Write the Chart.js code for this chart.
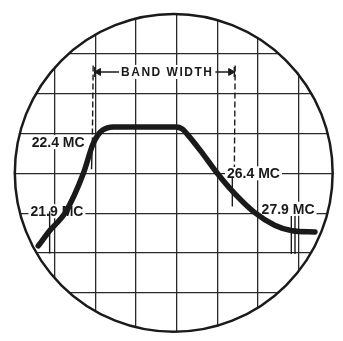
<!DOCTYPE html>
<html>
<head>
<meta charset="utf-8">
<script src="https://cdn.jsdelivr.net/npm/chart.js@4/dist/chart.umd.min.js"></script>
<style>
  html, body { margin: 0; padding: 0; background: #fff; }
  #wrap { width: 343px; height: 341px; position: relative; }
</style>
</head>
<body>
<div id="wrap"><canvas id="scope"></canvas></div>
<script>
(() => {
  "use strict";

  // units are graticule divisions (0..6 both ways)
  const GRID_X = [0, 1, 2, 3, 4, 5, 6];
  const GRID_Y = [0, 1, 2, 3, 4, 5, 6];

  // response curve
  const CURVE_X = [-0.40, -0.12, 0.28, 0.71, 0.94, 1.06, 1.18, 1.30, 1.45, 2.99, 3.14, 3.27, 3.60, 4.00, 4.40, 4.89, 5.41, 5.84, 6.40];
  const CURVE_Y = [1.18, 1.56, 2.04, 3.00, 3.72, 3.95, 4.08, 4.14, 4.16, 4.16, 4.11, 3.97, 3.55, 3.00, 2.52, 2.04, 1.70, 1.56, 1.53];

  // frequency labels
  const LABELS = ["22.4 MC", "21.9 MC", "26.4 MC", "27.9 MC"];
  const LABEL_X = [0.09, 0.06, 4.89, 5.74];
  const LABEL_Y = [3.78, 2.05, 3.00, 2.11];

  // band width markers
  const BAND_TEXT = "BAND WIDTH";
  const BAND_X = [0.99, 4.42];
  const BAND_Y = 5.54;
  const BAND_TEXT_X = 2.77;
  const ARROW_X = [1.08, 4.33];

  const DASH_LEFT = [[0.95, 5.70], [0.93, 3.80]];
  const SOLID_LEFT = [[0.93, 3.80], [0.91, 3.10]];
  const DASH_RIGHT = [[4.44, 5.70], [4.42, 3.16]];
  const SOLID_RIGHT = [[4.37, 2.92], [4.37, 2.17]];
  const TICK_219 = [[-0.12, 2.05], [-0.12, 0.99]];
  const TICK_279A = [[5.82, 1.93], [5.82, 0.98]];
  const TICK_279B = [[5.91, 1.93], [5.91, 0.98]];

  // screen circle (centre + radius, divisions)
  const SCREEN_CX = 2.93;
  const SCREEN_CY = 3.01;
  const SCREEN_R = 3.93;

  const INK = "#1a1a1a";
  const pts = (seg) => seg.map(([x, y]) => ({ x, y }));

  function seg(data, extra) {
    return Object.assign({
      data: pts(data), showLine: true, borderColor: INK, borderWidth: 1.4,
      pointRadius: 0, fill: false,
    }, extra || {});
  }

  function drawLabel(ctx, text, px, py, font, spacing) {
    ctx.save();
    ctx.font = font;
    if (spacing) ctx.letterSpacing = spacing;
    const w = ctx.measureText(text).width;
    ctx.fillStyle = "#fff";
    ctx.fillRect(px - w / 2 - 2, py - 7, w + 4, 14);
    ctx.fillStyle = INK;
    ctx.textAlign = "center";
    ctx.textBaseline = "middle";
    ctx.fillText(text, px, py + 1);
    ctx.restore();
  }

  const screenPlugin = {
    id: "screen",
    beforeDraw(chart) {
      const { ctx, scales: { x, y } } = chart;
      const cx = x.getPixelForValue(SCREEN_CX);
      const cy = y.getPixelForValue(SCREEN_CY);
      const r = x.getPixelForValue(SCREEN_CX + SCREEN_R) - cx;
      ctx.save();
      ctx.beginPath();
      ctx.arc(cx, cy, r, 0, Math.PI * 2);
      ctx.clip();
    },
    beforeDatasetsDraw(chart) {
      const { ctx, scales: { x, y } } = chart;
      LABELS.forEach((t, i) => {
        drawLabel(ctx, t, x.getPixelForValue(LABEL_X[i]), y.getPixelForValue(LABEL_Y[i]),
          'bold 14px "Liberation Sans", Arial, sans-serif');
      });
    },
    afterDatasetsDraw(chart) {
      const { ctx, scales: { x, y } } = chart;
      drawLabel(ctx, BAND_TEXT, x.getPixelForValue(BAND_TEXT_X), y.getPixelForValue(BAND_Y),
        'bold 12px "Liberation Sans", Arial, sans-serif', "1.5px");
    },
    afterDraw(chart) {
      const { ctx, scales: { x, y } } = chart;
      ctx.restore();
      const cx = x.getPixelForValue(SCREEN_CX);
      const cy = y.getPixelForValue(SCREEN_CY);
      const r = x.getPixelForValue(SCREEN_CX + SCREEN_R) - cx;
      ctx.save();
      ctx.beginPath();
      ctx.arc(cx, cy, r - 1, 0, Math.PI * 2);
      ctx.lineWidth = 2.5;
      ctx.strokeStyle = INK;
      ctx.stroke();
      ctx.restore();
    },
  };

  const axis = (min, max, grid) => ({
    type: "linear",
    min, max,
    ticks: { display: false },
    border: { display: false },
    grid: { color: "#2a2a2a", lineWidth: 1.3, drawTicks: false },
    afterBuildTicks: (a) => { a.ticks = grid.map((v) => ({ value: v })); },
  });

  new Chart(document.getElementById("scope"), {
    type: "scatter",
    data: {
      datasets: [
        {
          data: CURVE_X.map((x, i) => ({ x, y: CURVE_Y[i] })),
          showLine: true, borderColor: INK, borderWidth: 5.5, borderCapStyle: "round",
          cubicInterpolationMode: "monotone", pointRadius: 0, fill: false,
        },
        seg(DASH_LEFT, { borderDash: [6, 3] }),
        seg(SOLID_LEFT),
        seg(DASH_RIGHT, { borderDash: [6, 3] }),
        seg(SOLID_RIGHT),
        seg(TICK_219),
        seg(TICK_279A),
        seg(TICK_279B),
        seg(BAND_X.map((v) => [v, BAND_Y])),
        {
          data: ARROW_X.map((v) => ({ x: v, y: BAND_Y })),
          pointStyle: "triangle", rotation: [-90, 90], pointRadius: 4,
          backgroundColor: INK, borderColor: INK, borderWidth: 1, showLine: false,
        },
        {
          data: BAND_X.map((v) => ({ x: v, y: BAND_Y })),
          pointStyle: "line", rotation: 90, pointRadius: 5,
          borderColor: INK, borderWidth: 1.5, showLine: false,
        },
      ],
    },
    options: {
      responsive: true,
      maintainAspectRatio: false,
      animation: false,
      layout: { padding: 0 },
      plugins: { legend: { display: false }, tooltip: { enabled: false } },
      events: [],
      scales: {
        x: axis(-1.18, 6.93, GRID_X),
        y: axis(-1.04, 7.18, GRID_Y),
      },
    },
    plugins: [screenPlugin],
  });
})();
</script>
</body>
</html>
